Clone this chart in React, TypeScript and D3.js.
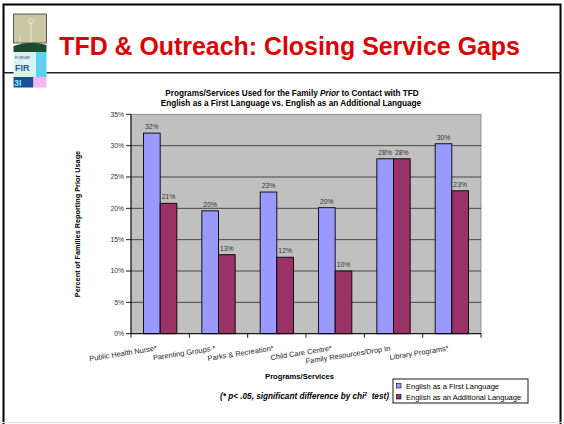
import React from "react";
import * as d3 from "d3";

const categories = [
  "Public Health Nurse*",
  "Parenting Groups *",
  "Parks & Recreation*",
  "Child Care Centre*",
  "Family Resources/Drop In",
  "Library Programs*",
];
const seriesNames = ["English as a First Language", "English as an Additional Language"];
const firstLanguage = [0.32, 0.196, 0.226, 0.201, 0.279, 0.303];
const additionalLanguage = [0.208, 0.126, 0.122, 0.1, 0.279, 0.228];
const yTicks = [0, 0.05, 0.1, 0.15, 0.2, 0.25, 0.3, 0.35];
const colors = ["#9999ff", "#993366"];

const FONT = "'Liberation Sans', Arial, Helvetica, sans-serif";

export default function App() {
  const W = 564;
  const H = 424;
  const left = 131, right = 481, top = 114.3, bottom = 333.7;
  const y = d3.scaleLinear().domain([0, 0.35]).range([bottom, top]);
  const x = d3
    .scaleBand<string>()
    .domain(categories)
    .range([left, right])
    .paddingInner(1.5 / 3.5)
    .paddingOuter(0.75 / 3.5);
  const xs = d3.scaleBand<number>().domain([0, 1]).range([0, x.bandwidth()]);
  const step = x.step();
  const fmt = d3.format(".0%");
  const series = [firstLanguage, additionalLanguage];

  return (
    <svg
      width={W}
      height={H}
      style={{ position: "absolute", left: 0, top: 0, background: "#fff" }}
      fontFamily={FONT}
    >
      {/* slide frame */}
      <rect x={3.5} y={4.5} width={557} height={430} fill="none" stroke="#000" strokeWidth={2} />
      <line x1={3} x2={561} y1={72.7} y2={72.7} stroke="#222" strokeWidth={1.5} />
      <line x1={0} x2={564} y1={422.5} y2={422.5} stroke="#ddd" strokeWidth={1} />

      {/* logo */}
      <g>
        <rect x={13.5} y={14} width={33} height={29} fill="#c9c8a4" stroke="#333" strokeWidth={0.8} />
        <line x1={31} x2={31} y1={22} y2={44} stroke="#f2f2e8" strokeWidth={0.8} />
        <line x1={20} x2={20} y1={34} y2={44} stroke="#f2f2e8" strokeWidth={0.6} />
        <circle cx={31} cy={21} r={2.5} fill="none" stroke="#f2f2e8" strokeWidth={0.6} />
        <path d="M13.5,46 Q30,40 46.5,45 L46.5,52 L13.5,52 Z" fill="#1e4b2c" />
        <rect x={13.5} y={52} width={33} height={25} fill="#d8f2f8" />
        <rect x={36} y={52} width={10.5} height={25} fill="#5bd1f0" />
        <text x={15} y={59} fontSize={4} fill="#335">FORUM</text>
        <text x={15} y={71} fontSize={9} fill="#2a5a8a" fontWeight="bold">FIR</text>
        <rect x={13.5} y={77} width={20} height={10.5} fill="#1a4f9c" />
        <text x={14} y={86} fontSize={9} fill="#8be6ff" fontWeight="bold">3I</text>
        <rect x={33.5} y={77} width={13} height={10.5} fill="#f6b6ee" />
      </g>

      {/* slide title */}
      <text x={59.3} y={55} fontSize={24.9} fontWeight="bold" fill="#dd0000">
        TFD &amp; Outreach: Closing Service Gaps
      </text>

      {/* chart title */}
      <text x={292} y={96} fontSize={8.2} fontWeight="bold" textAnchor="middle" fill="#000">
        Programs/Services Used for the Family <tspan fontStyle="italic">Prior</tspan> to Contact with TFD
      </text>
      <text x={291} y={106} fontSize={8.2} fontWeight="bold" textAnchor="middle" fill="#000">
        English as a First Language vs. English as an Additional Language
      </text>

      {/* plot area */}
      <rect x={left} y={top} width={right - left} height={bottom - top} fill="#c0c0c0" stroke="#808080" strokeWidth={0.8} />
      {yTicks.map((t) => (
        <g key={t}>
          {t > 0 && t < 0.35 && (
            <line x1={left} x2={right} y1={y(t)} y2={y(t)} stroke="#3a3a3a" strokeWidth={0.9} />
          )}
          <line x1={left - 5} x2={left} y1={y(t)} y2={y(t)} stroke="#000" strokeWidth={0.9} />
          <text x={left - 7} y={y(t) + 2.4} fontSize={6.8} textAnchor="end" fill="#333">
            {fmt(t)}
          </text>
        </g>
      ))}

      {/* bars */}
      {categories.map((c, i) => (
        <g key={c}>
          {series.map((s, j) => {
            const bx = (x(c) as number) + (xs(j) as number);
            const bw = xs.bandwidth();
            return (
              <g key={j}>
                <rect
                  x={bx}
                  y={y(s[i])}
                  width={bw}
                  height={y(0) - y(s[i])}
                  fill={colors[j]}
                  stroke="#000"
                  strokeWidth={0.9}
                />
                <text x={bx + bw / 2} y={y(s[i]) - 4} fontSize={6.8} textAnchor="middle" fill="#333">
                  {fmt(s[i])}
                </text>
              </g>
            );
          })}
        </g>
      ))}

      {/* axes */}
      <line x1={left} x2={left} y1={top} y2={bottom} stroke="#000" strokeWidth={1} />
      <line x1={left} x2={right} y1={bottom} y2={bottom} stroke="#000" strokeWidth={1} />
      {d3.range(categories.length + 1).map((k) => (
        <line
          key={k}
          x1={left + k * step}
          x2={left + k * step}
          y1={bottom}
          y2={bottom + 4}
          stroke="#000"
          strokeWidth={0.9}
        />
      ))}

      {/* category labels */}
      {categories.map((c) => {
        const cx = (x(c) as number) + x.bandwidth() / 2 - 3;
        const cy = 350.5;
        return (
          <text
            key={c}
            x={cx}
            y={cy}
            fontSize={7.4}
            textAnchor="end"
            fill="#222"
            transform={`rotate(-9, ${cx}, ${cy})`}
          >
            {c}
          </text>
        );
      })}

      {/* axis titles */}
      <text
        x={80}
        y={224}
        fontSize={7.3}
        fontWeight="bold"
        textAnchor="middle"
        fill="#000"
        transform="rotate(-90, 80, 224)"
      >
        Percent of Families Reporting Prior Usage
      </text>
      <text x={299.5} y={379} fontSize={7.6} fontWeight="bold" textAnchor="middle" fill="#000">
        Programs/Services
      </text>
      <text x={220} y={399} fontSize={8.2} fontWeight="bold" fontStyle="italic" fill="#000">
        (* p&lt; .05, significant difference by chi
        <tspan fontSize={5} dy={-3.5}>2</tspan>
        <tspan dy={3.5}>{"\u00a0 test)"}</tspan>
      </text>

      {/* legend */}
      <rect x={393} y={379} width={135} height={24} fill="#fff" stroke="#000" strokeWidth={0.9} />
      {seriesNames.map((n, j) => (
        <g key={n}>
          <rect x={396.5} y={383.5 + j * 11} width={4.5} height={4.5} fill={colors[j]} stroke="#000" strokeWidth={0.6} />
          <text x={406} y={389 + j * 11} fontSize={7.5} fill="#000">
            {n}
          </text>
        </g>
      ))}
    </svg>
  );
}
